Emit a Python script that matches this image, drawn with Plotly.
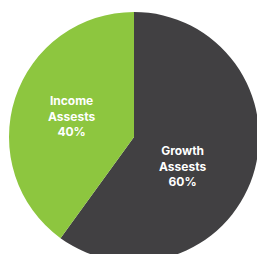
import plotly.graph_objects as go

labels = ["Growth<br>Assests", "Income<br>Assests"]
values = [60, 40]
percent_labels = ["60%", "40%"]
colors = ["#414042", "#8DC63F"]

fig = go.Figure(go.Pie(
    labels=labels,
    values=values,
    sort=False,
    direction="clockwise",
    rotation=0,
    marker=dict(colors=colors, line=dict(width=0)),
    textinfo="none",
    hoverinfo="skip",
    showlegend=False,
))

label_pos = [(0.692, 0.384), (0.248, 0.584)]
for lab, pct, (x, y) in zip(labels, percent_labels, label_pos):
    fig.add_annotation(
        x=x, y=y, xref="paper", yref="paper",
        text=f"<b>{lab}<br>{pct}</b>",
        showarrow=False, align="center",
        xanchor="center", yanchor="middle",
        font=dict(family="Inter", size=12, color="white"),
    )

fig.update_layout(
    width=260, height=262,
    margin=dict(l=9, r=1, t=12, b=0),
    paper_bgcolor="white",
    plot_bgcolor="white",
)

fig.write_html(
    "out.html",
    config={"displayModeBar": False},
    post_script="document.body.style.margin='0';document.body.style.overflow='hidden';",
)
